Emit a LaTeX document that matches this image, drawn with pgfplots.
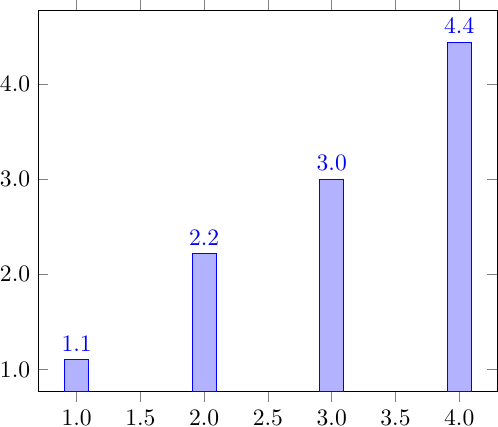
\documentclass[border=0pt]{standalone}
\usepackage{pgfplots}
\pgfplotsset{compat=1.18}
\begin{document}
\begin{tikzpicture}
\begin{axis}[
  ybar,
  xticklabel style={inner ysep=0.6pt, yshift=-2.733pt, /pgf/number format/fixed,/pgf/number format/fixed zerofill,/pgf/number format/precision=1},
  yticklabel style={inner xsep=0pt, xshift=-3.333pt, /pgf/number format/fixed,/pgf/number format/fixed zerofill,/pgf/number format/precision=1},
  nodes near coords,
  nodes near coords style={/pgf/number format/fixed,/pgf/number format/fixed zerofill,/pgf/number format/precision=1},
]
\addplot coordinates {(1,1.1) (2,2.22) (3,3.0) (4,4.44)};
\end{axis}
\end{tikzpicture}
\end{document}
